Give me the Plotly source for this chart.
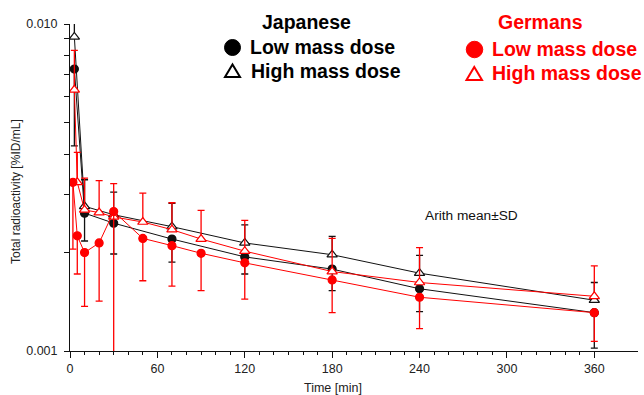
import plotly.graph_objects as go

# ---------------- data ----------------
jp_time = [3, 10, 30, 70, 120, 180, 240, 360]
jp_low = [0.00728, 0.00264, 0.00246, 0.00220, 0.00194, 0.00178, 0.00155, 0.00131]
jp_low_sd = [0.00304, 0.00047, 0.00048, 0.00033, 0.00022, 0.00025, 0.00023, 0.00029]
jp_high = [0.00913, 0.00277, 0.00261, 0.00240, 0.00214, 0.00197, 0.00173, 0.00143]
jp_high_sd = [0.0025, 0.00057, 0.00045, 0.00043, 0.00029, 0.00027, 0.00023, 0.00019]

de_low_time = [2, 5, 10, 20, 30, 50, 70, 90, 120, 180, 240, 360]
de_low = [0.00328, 0.00225, 0.00200, 0.00214, 0.00267, 0.00221, 0.00210, 0.00199,
          0.00186, 0.00165, 0.00146, 0.00131]
de_low_sd = [0.00123, 0.00053, 0.00063, 0.00072, 0.00300, 0.00057, 0.00052, 0.00046,
             0.00042, 0.00034, 0.00029, 0.00024]
de_high_time = [3, 5, 10, 20, 30, 50, 70, 90, 120, 180, 240, 360]
de_high = [0.00629, 0.00328, 0.00270, 0.00265, 0.00257, 0.00248, 0.00235, 0.00220,
           0.00202, 0.00175, 0.00162, 0.00147]
de_high_sd = [0.00201, 0.00077, 0.00068, 0.00067, 0.00068, 0.00056, 0.00049, 0.00049,
              0.00049, 0.00046, 0.00045, 0.00035]

x_ticks = [0, 60, 120, 180, 240, 300, 360]
x_minor = [m for m in range(10, 360, 10) if m % 60 != 0]
y_ticks = [0.001, 0.01]
y_ticktext = ["0.001", "0.010"]
y_minor = [0.002, 0.003, 0.004, 0.005, 0.006, 0.007, 0.008, 0.009]

# ---------------- layout constants ----------------
W, H = 644, 395
L, R, T, B = 70, 6, 24, 44
PW, PH = W - L - R, H - T - B
FONT = "Liberation Sans, Arial, Helvetica, sans-serif"
BLACK = "#111111"
RED = "#ff0000"


def px(xp):
    return (xp - L) / PW


def py(yp):
    return (H - B - yp) / PH


fig = go.Figure()


def add_series(x, y, sd, color, symbol, fill, upper):
    zeros = [0] * len(sd)
    err = dict(type="data", symmetric=False,
               array=sd if upper else zeros,
               arrayminus=zeros if upper else sd,
               color=color, thickness=1.3, width=3.5)
    fig.add_trace(go.Scatter(
        x=x, y=y, mode="lines+markers",
        line=dict(color=color, width=1),
        marker=dict(symbol=symbol, size=8 if symbol == "circle" else 9,
                    color=fill, line=dict(color=color, width=1.2)),
        error_y=err, cliponaxis=True))


add_series(jp_time, jp_high, jp_high_sd, BLACK, "triangle-up", "white", True)
add_series(jp_time, jp_low, jp_low_sd, BLACK, "circle", BLACK, False)
add_series(de_high_time, de_high, de_high_sd, RED, "triangle-up", "white", True)
add_series(de_low_time, de_low, de_low_sd, RED, "circle", RED, False)

fig.update_layout(
    width=W, height=H, margin=dict(l=L, r=R, t=T, b=B),
    plot_bgcolor="white", paper_bgcolor="white", showlegend=False,
    font=dict(family=FONT, color="#222222"),
    xaxis=dict(range=[0, 390], tickvals=x_ticks, ticks="outside", ticklen=6,
               tickwidth=1, tickcolor=BLACK, showline=True, linecolor=BLACK,
               linewidth=1, showgrid=False, zeroline=False,
               tickfont=dict(size=12.5, color="#222222"),
               minor=dict(tickvals=x_minor, ticks="outside", ticklen=3,
                          tickcolor=BLACK, tickwidth=1, showgrid=False)),
    yaxis=dict(type="log", range=[-3, -2], tickvals=y_ticks, ticktext=y_ticktext,
               ticks="outside", ticklen=5, tickwidth=1, tickcolor=BLACK,
               showline=True, linecolor=BLACK, linewidth=1, showgrid=False,
               zeroline=False, tickfont=dict(size=12.5, color="#222222"),
               ticklabelstandoff=4,
               minor=dict(tickvals=y_minor, ticks="outside", ticklen=5,
                          tickcolor=BLACK, tickwidth=1, showgrid=False)),
)

ann = []
# axis titles
ann.append(dict(text="Time [min]", x=px(333), y=py(388), xref="paper", yref="paper",
                xanchor="center", yanchor="middle", showarrow=False,
                font=dict(size=12.5, color="#222222")))
ann.append(dict(text="Total radioactivity [%ID/mL]", x=px(16), y=py(192),
                xref="paper", yref="paper", textangle=-90, xanchor="center",
                yanchor="middle", showarrow=False, font=dict(size=12, color="#222222")))
ann.append(dict(text="Arith mean±SD", x=px(471.5), y=py(215), xref="paper", yref="paper",
                xanchor="center", yanchor="middle", showarrow=False,
                font=dict(size=13.7, color="#111111")))

# legend texts
LEG = 19.5
ann.append(dict(text="<b>Japanese</b>", x=px(306.7), y=py(22), xref="paper", yref="paper",
                xanchor="center", yanchor="middle", showarrow=False,
                font=dict(size=LEG, color="#000000")))
ann.append(dict(text="<b>Low mass dose</b>", x=px(248.3), y=py(46.7), xref="paper",
                yref="paper", xanchor="left", yanchor="middle", showarrow=False,
                font=dict(size=LEG, color="#000000")))
ann.append(dict(text="<b>High mass dose</b>", x=px(249.3), y=py(70.7), xref="paper",
                yref="paper", xanchor="left", yanchor="middle", showarrow=False,
                font=dict(size=LEG, color="#000000")))
ann.append(dict(text="<b>Germans</b>", x=px(540.5), y=py(22), xref="paper", yref="paper",
                xanchor="center", yanchor="middle", showarrow=False,
                font=dict(size=LEG, color=RED)))
ann.append(dict(text="<b>Low mass dose</b>", x=px(490), y=py(49.5), xref="paper",
                yref="paper", xanchor="left", yanchor="middle", showarrow=False,
                font=dict(size=LEG, color=RED)))
ann.append(dict(text="<b>High mass dose</b>", x=px(490), y=py(73.3), xref="paper",
                yref="paper", xanchor="left", yanchor="middle", showarrow=False,
                font=dict(size=LEG, color=RED)))
fig.update_layout(annotations=ann)


def circle_shape(cx, cy, d, color):
    return dict(type="circle", xref="paper", yref="paper",
                x0=px(cx - d / 2), x1=px(cx + d / 2), y0=py(cy + d / 2), y1=py(cy - d / 2),
                fillcolor=color, line=dict(color=color, width=1))


def tri_shape(x0, x1, ytop, ybot, color):
    xm = (x0 + x1) / 2
    path = (f"M {px(x0)} {py(ybot)} L {px(x1)} {py(ybot)} "
            f"L {px(xm)} {py(ytop)} Z")
    return dict(type="path", xref="paper", yref="paper", path=path,
                fillcolor="white", line=dict(color=color, width=2))


shapes = [
    circle_shape(232.5, 47.5, 16, "#000000"),
    tri_shape(225, 240, 64.5, 77, "#000000"),
    circle_shape(474.5, 49.5, 16.5, RED),
    tri_shape(466.5, 482, 67, 80, RED),
]
fig.update_layout(shapes=shapes)

fig.write_html("out.html",
               config={"displayModeBar": False, "staticPlot": True},
               post_script="document.body.style.margin='0';"
                           "document.body.style.padding='0';"
                           "document.documentElement.style.overflow='hidden';")
